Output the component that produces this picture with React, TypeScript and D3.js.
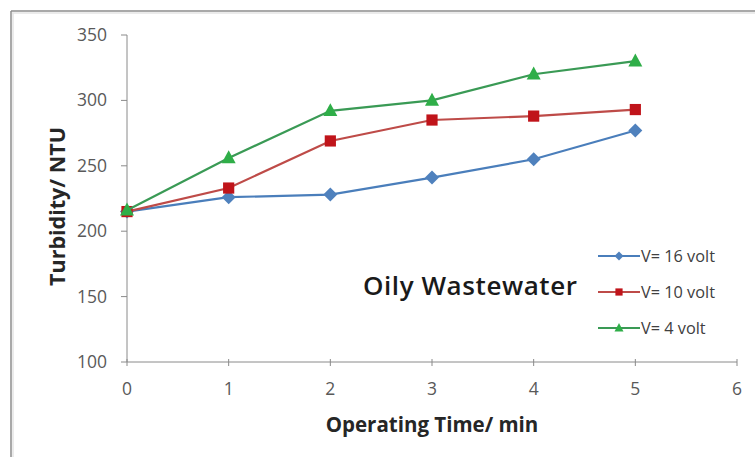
import React from "react";
import * as d3 from "d3";

const times = [0, 1, 2, 3, 4, 5];
const v16 = [215, 226, 228, 241, 255, 277];
const v10 = [215, 233, 269, 285, 288, 293];
const v4 = [216, 256, 292, 300, 320, 330];
const seriesNames = ["V= 16 volt", "V= 10 volt", "V= 4 volt"];
const xTicks = [0, 1, 2, 3, 4, 5, 6];
const yTicks = [100, 150, 200, 250, 300, 350];

const W = 755;
const H = 457;
const font = "'Open Sans', 'Noto Sans', sans-serif";

const series = [
  { name: seriesNames[0], values: v16, line: "#4a7ebb", fill: "#4f81bd", shape: "diamond" },
  { name: seriesNames[1], values: v10, line: "#be4b48", fill: "#c0141a", shape: "square" },
  { name: seriesNames[2], values: v4, line: "#3a9a55", fill: "#2fae48", shape: "triangle" },
];

function marker(shape: string, x: number, y: number, s: number, fill: string) {
  if (shape === "diamond") {
    return <path d={`M${x},${y - s}L${x + s},${y}L${x},${y + s}L${x - s},${y}Z`} fill={fill} />;
  }
  if (shape === "square") {
    return <rect x={x - s * 0.8} y={y - s * 0.8} width={s * 1.6} height={s * 1.6} fill={fill} />;
  }
  return <path d={`M${x},${y - s * 1.1}L${x + s},${y + s * 0.75}L${x - s},${y + s * 0.75}Z`} fill={fill} />;
}

export default function App() {
  const x = d3.scaleLinear().domain([0, 6]).range([127, 737]);
  const y = d3.scaleLinear().domain([100, 350]).range([362, 35]);

  const line = d3
    .line<number>()
    .x((_, i) => x(times[i]))
    .y((d) => y(d));

  return (
    <svg width={W} height={H} style={{ position: "absolute", left: 0, top: 0, background: "#fff" }}>
      <rect x={0} y={0} width={W} height={H} fill="#fff" />
      {/* frame */}
      <line x1={11} y1={11} x2={W} y2={11} stroke="#8c8c8c" strokeWidth={1.5} />
      <line x1={11} y1={11} x2={11} y2={H} stroke="#8c8c8c" strokeWidth={1.5} />
      <line x1={12} y1={13} x2={W} y2={13} stroke="#e4e4e4" strokeWidth={1.5} />
      <line x1={13} y1={13} x2={13} y2={H} stroke="#e4e4e4" strokeWidth={1.5} />

      {/* axes */}
      <line x1={x(0)} y1={y(100)} x2={x(6)} y2={y(100)} stroke="#8a8a8a" />
      <line x1={x(0)} y1={y(100)} x2={x(0)} y2={y(350)} stroke="#8a8a8a" />
      {yTicks.map((t) => (
        <g key={"y" + t}>
          <line x1={x(0) - 6} x2={x(0)} y1={y(t)} y2={y(t)} stroke="#8a8a8a" />
          <text x={107} y={y(t) + 6} textAnchor="end" fontSize={17.5} fill="#595959" fontFamily={font}>
            {t}
          </text>
        </g>
      ))}
      {xTicks.map((t) => (
        <g key={"x" + t}>
          <line x1={x(t)} x2={x(t)} y1={y(100) - 3} y2={y(100) + 4} stroke="#8a8a8a" />
          <text x={x(t)} y={395} textAnchor="middle" fontSize={17.5} fill="#595959" fontFamily={font}>
            {t}
          </text>
        </g>
      ))}

      <text
        transform={`translate(65,${(y(100) + y(350)) / 2 + 8}) rotate(-90)`}
        textAnchor="middle"
        fontSize={21.5}
        fontWeight="bold"
        fill="#262626"
        fontFamily={font}
      >
        Turbidity/ NTU
      </text>
      <text x={432} y={432} textAnchor="middle" fontSize={20.5} fontWeight="bold" fill="#262626" fontFamily={font}>
        Operating Time/ min
      </text>

      {series.map((s) => (
        <g key={s.name}>
          <path d={line(s.values) || ""} fill="none" stroke={s.line} strokeWidth={2.2} />
          {s.values.map((v, i) => (
            <g key={i}>{marker(s.shape, x(times[i]), y(v), 7, s.fill)}</g>
          ))}
        </g>
      ))}

      {/* legend */}
      {series.map((s, i) => {
        const ly = 256 + i * 36;
        return (
          <g key={"lg" + s.name}>
            <line x1={598} x2={640} y1={ly} y2={ly} stroke={s.line} strokeWidth={2.2} />
            {marker(s.shape, 619, ly, 4.5, s.fill)}
            <text x={641} y={ly + 6} fontSize={16.3} fill="#404040" fontFamily={font}>
              {s.name}
            </text>
          </g>
        );
      })}

      <text x={363} y={295} fontSize={26} fontWeight="600" fill="#1a1a1a" fontFamily={font} textLength={214}>
        Oily Wastewater
      </text>
    </svg>
  );
}
